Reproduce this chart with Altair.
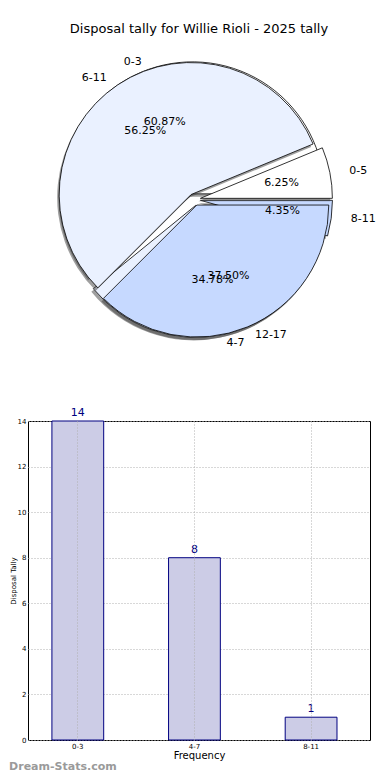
import math
import altair as alt
import pandas as pd

title_text = "Disposal tally for Willie Rioli - 2025 tally"
pie_a_labels = ["0-3", "4-7", "8-11"]
pie_a_values = [14, 8, 1]
pie_b_labels = ["0-5", "6-11", "12-17"]
pie_b_values = [1, 9, 6]
bar_categories = ["0-3", "4-7", "8-11"]
bar_values = [14, 8, 1]
slice_colors = ["#ffffff", "#eaf1ff", "#c6d9ff"]

# layout (style) constants
LEFT = 27.5
PW, PH = 342, 310
CX, CY = 194 - LEFT, 157.5
R, RX, RY, D = 132, 138, 127.5, 6

rows = []
for pid, labs, vals in (("A", pie_a_labels, pie_a_values), ("B", pie_b_labels, pie_b_values)):
    for i, (l, v) in enumerate(zip(labs, vals)):
        rows.append(dict(pie=pid, label=l, value=v, order=i, color=slice_colors[i]))
pie_df = pd.DataFrame(rows)

theta_scale = alt.Scale(domain=[0, 1], range=[2.5 * math.pi, 0.5 * math.pi])


def pie_base(pid):
    return (
        alt.Chart(pie_df)
        .transform_filter(alt.datum.pie == pid)
        .transform_joinaggregate(total="sum(value)")
        .transform_window(cum="sum(value)", sort=[alt.SortField("order")], frame=[None, 0])
        .transform_calculate(
            start="(datum.cum - datum.value) / datum.total",
            end="datum.cum / datum.total",
        )
        .transform_calculate(phi="PI * (datum.start + datum.end)")
        .transform_calculate(
            ax=f"{CX} + {D} * cos(datum.phi)",
            ay=f"{CY} - {D} * sin(datum.phi)",
        )
        .transform_calculate(
            sx="datum.ax - 2",
            sy="datum.ay + 3",
            lx=f"datum.ax + {RX} * 1.1 * cos(datum.phi)",
            ly=f"datum.ay - {RY} * 1.1 * sin(datum.phi)",
            px=f"datum.ax + {RX} * 0.6 * cos(datum.phi)",
            py=f"datum.ay - {RY} * 0.6 * sin(datum.phi)",
            pct="format(datum.value / datum.total * 100, '.2f') + '%'",
        )
    )


def arcs(pid):
    b = pie_base(pid)
    shadow = b.mark_arc(radius=R, fill="#404040", opacity=0.5).encode(
        theta=alt.Theta("start:Q", scale=theta_scale),
        theta2="end:Q",
        x=alt.X("sx:Q", scale=None),
        y=alt.Y("sy:Q", scale=None),
    )
    wedge = b.mark_arc(radius=R, stroke="black", strokeWidth=0.8).encode(
        theta=alt.Theta("start:Q", scale=theta_scale),
        theta2="end:Q",
        x=alt.X("ax:Q", scale=None),
        y=alt.Y("ay:Q", scale=None),
        fill=alt.Fill("color:N", scale=None),
    )
    return [shadow, wedge]


def texts(pid):
    b = pie_base(pid)
    lab_r = b.transform_filter("cos(datum.phi) >= 0").mark_text(
        align="left", baseline="middle", fontSize=11, color="black"
    ).encode(x=alt.X("lx:Q", scale=None), y=alt.Y("ly:Q", scale=None), text="label:N")
    lab_l = b.transform_filter("cos(datum.phi) < 0").mark_text(
        align="right", baseline="middle", fontSize=11, color="black"
    ).encode(x=alt.X("lx:Q", scale=None), y=alt.Y("ly:Q", scale=None), text="label:N")
    pct = b.mark_text(align="center", baseline="middle", fontSize=11, color="black").encode(
        x=alt.X("px:Q", scale=None), y=alt.Y("py:Q", scale=None), text="pct:N"
    )
    return [lab_r, lab_l, pct]


pie = alt.layer(
    *arcs("A"), *arcs("B"), *texts("A"), *texts("B")
).properties(
    width=PW,
    height=PH,
    title=alt.TitleParams(title_text, fontSize=13, fontWeight="normal", anchor="middle", offset=6),
)

bar_df = pd.DataFrame({"cat": bar_categories, "count": bar_values})

xenc = alt.X(
    "cat:N",
    sort=bar_categories,
    scale=alt.Scale(paddingInner=0.556, paddingOuter=0.244, align=0.42),
    axis=alt.Axis(
        title="Frequency", labelAngle=0, labelFontSize=7, ticks=False, domain=False,
        grid=True, gridDash=[1, 2], gridColor="#b0b0b0", bandPosition=0.5,
        labelPadding=2, titleFontSize=10, titlePadding=1, titleFontWeight="normal", zindex=1,
    ),
)
yenc = alt.Y(
    "count:Q",
    scale=alt.Scale(domain=[0, 14], nice=False),
    axis=alt.Axis(
        values=list(range(0, 15, 2)), title="Disposal Tally", labelFontSize=7, ticks=False,
        domain=False, gridDash=[1, 2], gridColor="#b0b0b0", labelPadding=2,
        titleFontSize=7, titlePadding=1, titleFontWeight="normal", format="d",
    ),
)

bars = alt.Chart(bar_df).mark_bar(fill="#ccccE6", stroke="#000080", strokeWidth=1).encode(x=xenc, y=yenc)
vals = alt.Chart(bar_df).mark_text(baseline="bottom", dy=-3, fontSize=11, color="#000080").encode(
    x=alt.X("cat:N", sort=bar_categories), y="count:Q", text="count:Q"
)

bar = alt.layer(bars, vals).properties(
    width=PW,
    height=319,
    view=alt.ViewBackground(stroke="black", strokeWidth=1),
    title=alt.TitleParams(
        "Dream-Stats.com", orient="bottom", anchor="start", fontSize=11, fontWeight="bold",
        color="#9a9a9a", offset=1,
    ),
)

chart = (
    alt.vconcat(pie, bar, spacing=54)
    .properties(padding={"left": 0, "top": 15, "right": 0, "bottom": 0})
    .configure(font="DejaVu Sans")
    .configure_view(strokeWidth=0)
    .configure_axis(labelColor="black", titleColor="black", gridOpacity=1)
)

chart.save("out.html", embed_options={"renderer": "svg", "actions": False})
